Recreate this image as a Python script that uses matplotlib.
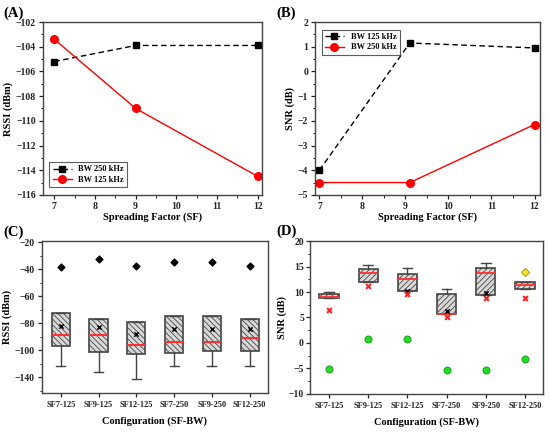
import numpy as np
import matplotlib
matplotlib.use("Agg")
import matplotlib.pyplot as plt
from matplotlib.ticker import MultipleLocator, FixedLocator, FuncFormatter

plt.rcParams['font.family'] = ['Liberation Serif', 'DejaVu Serif']
plt.rcParams['font.weight'] = 'bold'
plt.rcParams['axes.labelweight'] = 'bold'
plt.rcParams['hatch.linewidth'] = 0.6

# ---------------- data ----------------
sf = [7, 9, 12]
rssi_bw250 = [-105.2, -103.9, -103.9]
rssi_bw125 = [-103.4, -109.0, -114.5]

sf_b125 = [7, 9.1, 12]
snr_bw125 = [-4.0, 1.15, 0.95]
sf_b250 = [7, 9.1, 12]
snr_bw250 = [-4.5, -4.5, -2.15]

configs = ["SF7-125", "SF9-125", "SF12-125", "SF7-250", "SF9-250", "SF12-250"]

# Panel C (RSSI boxes)
c_whislo = [-123, -132, -142, -123, -123, -123]
c_q1 = [-97, -102, -105.5, -103.5, -101.5, -101.5]
c_med = [-89, -89, -96, -94, -94, -91]
c_q3 = [-72.5, -77, -79, -74.5, -74.5, -76.5]
c_mean = [-82, -83, -88, -84.5, -84, -84.5]
c_outlier = [-38.5, -32.5, -38, -34.5, -34.5, -37.5]

# Panel D (SNR boxes)
d_q1 = [8.8, 11.9, 10.2, 5.7, 9.4, 10.6]
d_med = [9.0, 13.7, 12.5, 5.7, 13.8, 11.4]
d_q3 = [9.6, 14.6, 13.6, 9.6, 14.8, 12.0]
d_whishi = [10.1, 15.3, 14.7, 10.6, 15.7, 12.0]
d_mean_idx = [2, 3, 4]
d_mean = [10.2, 6.2, 9.8]
d_red_x = [6.5, 11.2, 9.6, 5.0, 8.8, 8.9]
d_green = [-5.1, 0.8, 0.8, -5.4, -5.4, -3.1]
d_yellow_idx = [5]
d_yellow = [14.0]

# ---------------- figure ----------------
fig = plt.figure(figsize=(5.5, 4.4), dpi=100)
axA = fig.add_axes([0.078, 0.557, 0.398, 0.393])
axB = fig.add_axes([0.573, 0.557, 0.409, 0.393])
axC = fig.add_axes([0.076, 0.107, 0.411, 0.345])
axD = fig.add_axes([0.564, 0.105, 0.423, 0.347])

spine_col = '#444444'
tfs = 7
lfs = 7.5
xtfs = 6

def style(ax):
    for s in ax.spines.values():
        s.set_color(spine_col)
        s.set_linewidth(1.0)
    ax.tick_params(which='both', direction='out', colors='#222222', labelsize=tfs, pad=2)
    ax.tick_params(which='major', length=3, width=0.9)
    ax.tick_params(which='minor', length=1.8, width=0.7)

minus = FuncFormatter(lambda v, p: (f"\u2212{abs(v):g}" if v < 0 else f"{v:g}"))

# Panel A
axA.plot(sf, rssi_bw250, color='black', ls='--', lw=1.0, marker='s', ms=4.5,
         label='BW 250 kHz', dashes=(4, 2.5))
axA.plot(sf, rssi_bw125, color='red', ls='-', lw=1.0, marker='o', ms=5.5,
         label='BW 125 kHz')
axA.set_xlim(6.72, 12.1)
axA.set_ylim(-116, -102)
axA.set_xticks(range(7, 13))
axA.set_yticks(np.arange(-116, -101, 2))
axA.yaxis.set_major_formatter(minus)
axA.xaxis.set_minor_locator(MultipleLocator(0.5))
axA.yaxis.set_minor_locator(MultipleLocator(1))
axA.set_xlabel('Spreading Factor (SF)', fontsize=lfs, labelpad=1)
axA.set_ylabel('RSSI (dBm)', fontsize=lfs, labelpad=2)
leg = axA.legend(loc='lower left', fontsize=6, frameon=True, fancybox=False,
                 edgecolor='#333333', borderpad=0.4, handlelength=2.3,
                 labelspacing=0.3, bbox_to_anchor=(0.01, 0.02))
leg.get_frame().set_linewidth(0.8)
style(axA)

# Panel B
axB.plot(sf_b125, snr_bw125, color='black', ls='--', lw=1.0, marker='s', ms=4.5,
         label='BW 125 kHz', dashes=(4, 2.5))
axB.plot(sf_b250, snr_bw250, color='red', ls='-', lw=1.0, marker='o', ms=5.5,
         label='BW 250 kHz')
axB.set_xlim(6.9, 12.13)
axB.set_ylim(-5, 2)
axB.set_xticks(range(7, 13))
axB.set_yticks(range(-5, 3))
axB.yaxis.set_major_formatter(minus)
axB.xaxis.set_minor_locator(MultipleLocator(0.5))
axB.yaxis.set_minor_locator(MultipleLocator(0.5))
axB.set_xlabel('Spreading Factor (SF)', fontsize=lfs, labelpad=1)
axB.set_ylabel('SNR (dB)', fontsize=lfs, labelpad=2)
leg = axB.legend(loc='upper left', fontsize=6, frameon=True, fancybox=False,
                 edgecolor='#333333', borderpad=0.4, handlelength=2.3,
                 labelspacing=0.3, bbox_to_anchor=(0.01, 0.98))
leg.get_frame().set_linewidth(0.8)
style(axB)

# Panel C
def fwd(y):
    y = np.asarray(y, dtype=float)
    return np.where(y >= -100, y, -100 + (y + 100) * 0.5)

def inv(v):
    v = np.asarray(v, dtype=float)
    return np.where(v >= -100, v, -100 + (v + 100) * 2.0)

axC.set_yscale('function', functions=(fwd, inv))
pos = np.arange(1, len(configs) + 1)
statsC = []
for i in range(len(configs)):
    statsC.append(dict(whislo=c_whislo[i], q1=c_q1[i], med=c_med[i], q3=c_q3[i],
                       whishi=c_q3[i], fliers=[]))
bC = axC.bxp(statsC, positions=pos, widths=0.48, patch_artist=True,
             showfliers=False, capwidths=0.24,
             boxprops=dict(facecolor='#d9d9d9', edgecolor='#444444', lw=1.2, hatch='\\\\\\\\\\\\'),
             medianprops=dict(color='#ff3030', lw=1.5),
             whiskerprops=dict(color='#444444', lw=1.0),
             capprops=dict(color='#444444', lw=1.0))
axC.scatter(pos, c_mean, marker='x', color='black', s=10, lw=1.1, zorder=4)
axC.scatter(pos, c_outlier, marker='D', color='black', s=12, zorder=4)
axC.set_xlim(0.5, 6.48)
axC.set_ylim(-163, -19.3)
axC.yaxis.set_major_locator(FixedLocator([-140, -100, -80, -60, -40, -20]))
axC.yaxis.set_minor_locator(FixedLocator([-160, -120, -90, -70, -50, -30]))
axC.yaxis.set_major_formatter(minus)
axC.set_xticks(pos)
axC.set_xticklabels(configs)
axC.set_xlabel('Configuration (SF-BW)', fontsize=lfs, labelpad=5)
axC.set_ylabel('RSSI (dBm)', fontsize=lfs, labelpad=2)
style(axC)
axC.tick_params(axis='x', labelsize=xtfs, pad=3)

# Panel D
statsD = []
for i in range(len(configs)):
    statsD.append(dict(whislo=d_q1[i], q1=d_q1[i], med=d_med[i], q3=d_q3[i],
                       whishi=d_whishi[i], fliers=[]))
bD = axD.bxp(statsD, positions=pos, widths=0.5, patch_artist=True,
             showfliers=False, capwidths=0.25,
             boxprops=dict(facecolor='#d9d9d9', edgecolor='#444444', lw=1.2, hatch='//////'),
             medianprops=dict(color='#ff3030', lw=1.3),
             whiskerprops=dict(color='#444444', lw=1.0),
             capprops=dict(color='#444444', lw=1.0))
axD.scatter(pos[d_mean_idx], d_mean, marker='x', color='black', s=10, lw=1.1, zorder=4)
axD.scatter(pos, d_red_x, marker='x', color='#ff2020', s=12, lw=1.5, zorder=4)
axD.scatter(pos, d_green, marker='o', color='#22dd22', edgecolor='#119911',
            s=26, lw=0.6, zorder=4)
axD.scatter(pos[d_yellow_idx], d_yellow, marker='D', color='#f5e030',
            edgecolor='#999900', s=18, lw=0.6, zorder=4)
axD.set_xlim(0.515, 6.46)
axD.set_ylim(-10, 20)
axD.set_yticks(range(-10, 21, 5))
axD.yaxis.set_major_formatter(minus)
axD.yaxis.set_minor_locator(MultipleLocator(2.5))
axD.set_xticks(pos)
axD.set_xticklabels(configs)
axD.set_xlabel('Configuration (SF-BW)', fontsize=lfs, labelpad=5)
axD.set_ylabel('SNR (dB)', fontsize=lfs, labelpad=1)
style(axD)
axD.tick_params(axis='x', labelsize=xtfs, pad=3)
axD.tick_params(axis='y', pad=1.5)

# panel letters
fig.text(0.006, 0.962, '(A)', fontsize=10.5, fontweight='bold')
fig.text(0.502, 0.962, '(B)', fontsize=10.5, fontweight='bold')
fig.text(0.006, 0.464, '(C)', fontsize=10.5, fontweight='bold')
fig.text(0.502, 0.466, '(D)', fontsize=10.5, fontweight='bold')

fig.savefig('out.png', dpi=100)
